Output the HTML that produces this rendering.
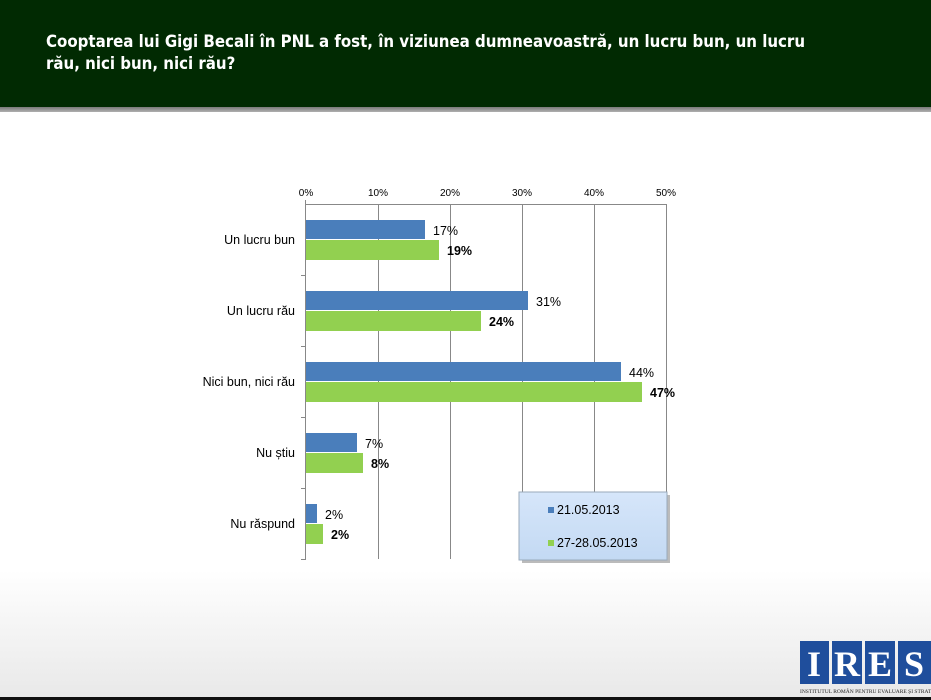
<!DOCTYPE html>
<html><head><meta charset="utf-8"><style>
body{margin:0;width:931px;height:700px;overflow:hidden;font-family:"Liberation Sans",sans-serif;position:relative;background:linear-gradient(#fff 0,#fff 570px,#e8e8e8 700px)}
.hdr{position:absolute;left:0;top:0;width:931px;height:107px;background:#012a02}
.bar2{position:absolute;left:0;top:107px;width:931px;height:5px;background:linear-gradient(#7a7a7a,#b0b0b0)}
.t{position:absolute;left:46px;top:30px;color:#fff;font-weight:bold;font-size:16.7px;line-height:22px;font-family:"DejaVu Sans Condensed","Liberation Sans Narrow","Liberation Sans",sans-serif}
</style></head><body>
<div class="hdr"></div><div class="bar2"></div>
<div class="t">Cooptarea lui Gigi Becali în PNL a fost, în viziunea dumneavoastră, un lucru bun, un lucru<br>rău, nici bun, nici rău?</div>
<svg width="931" height="700" style="position:absolute;left:0;top:0" font-family="Liberation Sans, sans-serif">
<g stroke="#888" stroke-width="1">
<line x1="378.5" y1="204" x2="378.5" y2="559"/><line x1="450.5" y1="204" x2="450.5" y2="559"/><line x1="522.5" y1="204" x2="522.5" y2="559"/><line x1="594.5" y1="204" x2="594.5" y2="559"/><line x1="666.5" y1="204" x2="666.5" y2="559"/>
<line x1="306" y1="204.5" x2="667" y2="204.5"/>
<line x1="305.5" y1="200" x2="305.5" y2="559"/>
<line x1="301" y1="275.5" x2="306" y2="275.5"/><line x1="301" y1="346.5" x2="306" y2="346.5"/><line x1="301" y1="417.5" x2="306" y2="417.5"/><line x1="301" y1="488.5" x2="306" y2="488.5"/><line x1="301" y1="559.5" x2="306" y2="559.5"/>
</g>
<g font-size="10" fill="#000" text-anchor="middle">
<text x="306" y="196">0%</text><text x="378" y="196">10%</text><text x="450" y="196">20%</text><text x="522" y="196">30%</text><text x="594" y="196">40%</text><text x="666" y="196">50%</text>
</g>
<g font-size="12.5" fill="#000" text-anchor="end">
<text x="295" y="244">Un lucru bun</text><text x="295" y="315">Un lucru rău</text><text x="295" y="386">Nici bun, nici rău</text><text x="295" y="457">Nu știu</text><text x="295" y="528">Nu răspund</text>
</g>
<g fill="#4a7ebb">
<rect x="306" y="220" width="119" height="19"/><rect x="306" y="291" width="222" height="19"/><rect x="306" y="362" width="315" height="19"/><rect x="306" y="433" width="51" height="19"/><rect x="306" y="504" width="11" height="19"/>
</g>
<g fill="#92d050">
<rect x="306" y="240" width="133" height="20"/><rect x="306" y="311" width="175" height="20"/><rect x="306" y="382" width="336" height="20"/><rect x="306" y="453" width="57" height="20"/><rect x="306" y="524" width="17" height="20"/>
</g>
<g font-size="12.5" fill="#000">
<text x="433" y="235">17%</text><text x="536" y="306">31%</text><text x="629" y="377">44%</text><text x="365" y="448">7%</text><text x="325" y="519">2%</text>
</g>
<g font-size="12.5" fill="#000" font-weight="bold">
<text x="447" y="255">19%</text><text x="489" y="326">24%</text><text x="650" y="397">47%</text><text x="371" y="468">8%</text><text x="331" y="539">2%</text>
</g>
<defs><linearGradient id="lg" x1="0" y1="0" x2="0" y2="1"><stop offset="0" stop-color="#d6e6fa"/><stop offset="1" stop-color="#c3d9f3"/></linearGradient></defs>
<rect x="522" y="495" width="148" height="68" fill="#bbb"/>
<rect x="519" y="492" width="148" height="68" fill="url(#lg)" stroke="#9ab" stroke-width="1"/>
<rect x="548" y="507" width="6" height="6" fill="#4a7ebb"/><text x="557" y="514" font-size="12.5">21.05.2013</text>
<rect x="548" y="540" width="6" height="6" fill="#92d050"/><text x="557" y="547" font-size="12.5">27-28.05.2013</text>
<g>
<rect x="800" y="641" width="29" height="43" fill="#1f4e9c"/><rect x="832" y="641" width="30" height="43" fill="#1f4e9c"/><rect x="865" y="641" width="30" height="43" fill="#1f4e9c"/><rect x="898" y="641" width="33" height="43" fill="#1f4e9c"/>
<g fill="#fff" font-family="Liberation Serif, serif" font-weight="bold" font-size="36" text-anchor="middle"><text x="814" y="676">I</text><text x="847" y="676">R</text><text x="880" y="676">E</text><text x="914" y="676">S</text></g>
<text x="800" y="693" font-size="5.5" font-family="Liberation Serif, serif" fill="#222">INSTITUTUL ROMÂN PENTRU EVALUARE ȘI STRATEGIE</text>
</g>
<rect x="0" y="697" width="931" height="3" fill="#111"/>
</svg>
</body></html>
